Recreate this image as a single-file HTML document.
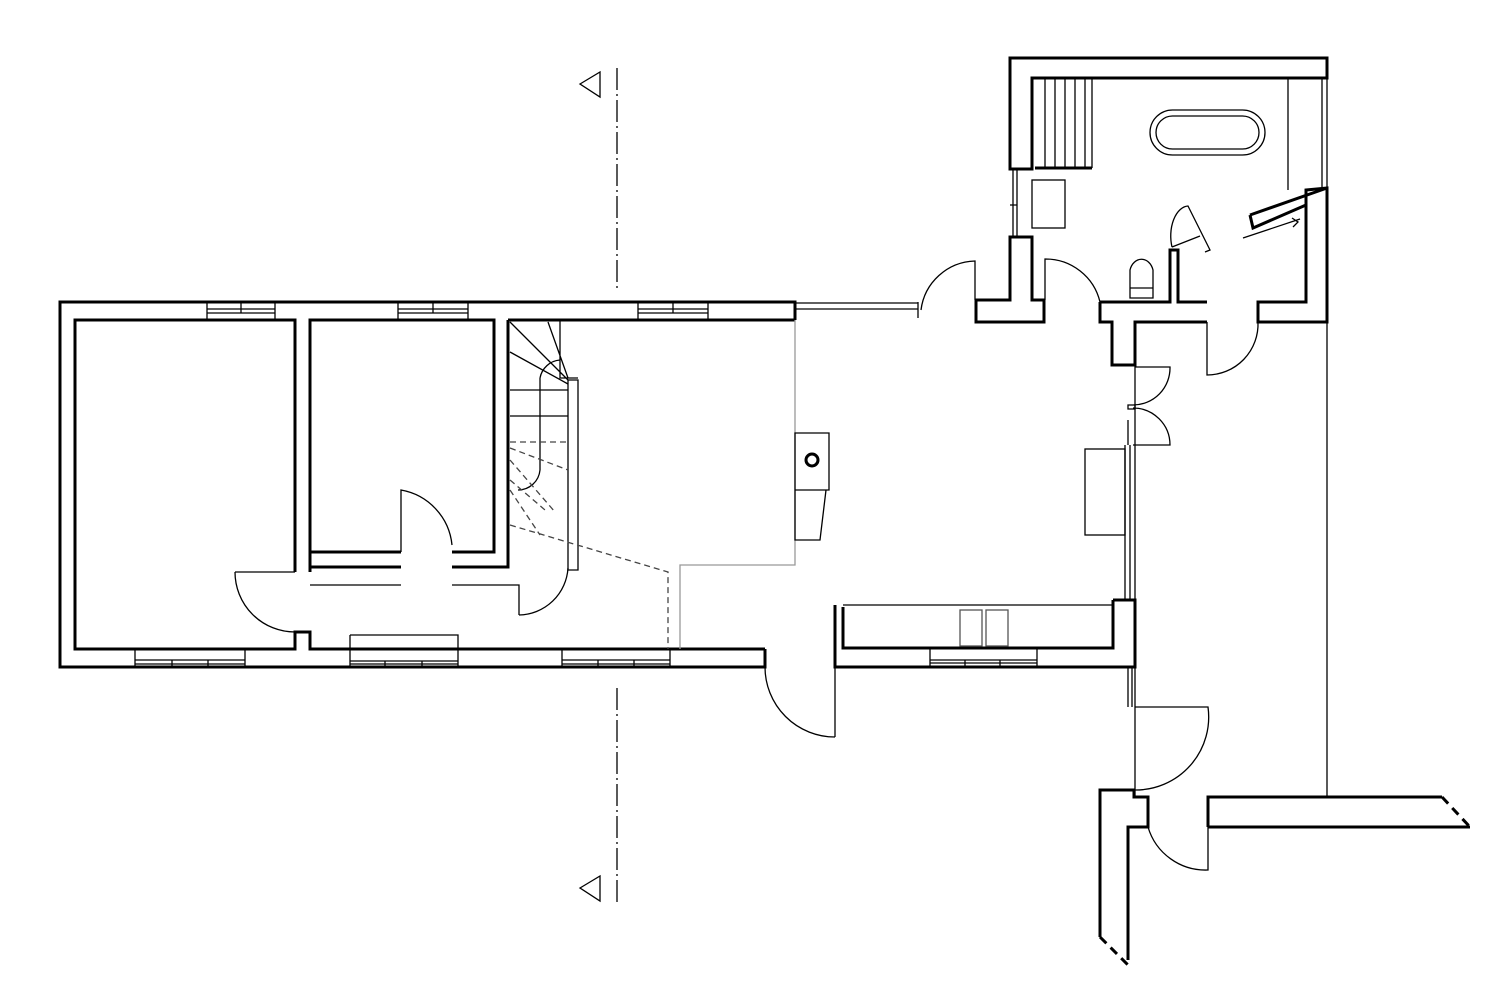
<!DOCTYPE html>
<html><head><meta charset="utf-8"><style>html,body{margin:0;padding:0;background:#fff}svg{display:block}</style></head>
<body>
<svg width="1500" height="1000" viewBox="0 0 1500 1000" xmlns="http://www.w3.org/2000/svg" fill="none" stroke="#000" stroke-linejoin="miter">
<!-- section markers -->
<g stroke-width="1.3">
<path d="M617 68 V290" stroke-dasharray="22 4 2 4"/>
<path d="M617 688 V905" stroke-dasharray="22 4 2 4"/>
<path d="M580 84 L600 72 V97 Z"/>
<path d="M580 888 L600 876 V901 Z"/>
</g>
<!-- main building walls (thick) -->
<g stroke-width="3">
<!-- outer -->
<path d="M765 649 V667 H60 V302 H795 V320"/>
<!-- left room -->
<path d="M295 572 V320 H75 V649 H295 V632 H310 V649 H765"/>
<!-- room 2 -->
<path d="M310 572 V320 H494 V552 H452 M401 552 H310 M310 567 H401 M452 567 H508 V320"/>
<!-- top inner -->
<path d="M508 320 H795"/>
<!-- kitchen counter -->
<path d="M835 605 V667 H1135 V600 H1113 M843 607 V648 H1113 V600"/>
<!-- annex -->
<path d="M1010 169 V58 H1327 V78 H1032 V169 Z"/>
<path d="M1010 237 H1032 V300 H1044 V322 H976 V300 H1010 Z"/>
<path d="M1100 302 H1170 V250 H1178 V302 H1207 M1100 302 V322 H1112 V365 H1135 V322 H1207 M1258 302 H1306 V190 L1327 188 V322 H1258 Z"/>
<path d="M1250 215 L1327 188 M1250 215 L1253 228 L1306 205"/>
<path d="M1035 168 H1092"/>
<!-- bottom right -->
<path d="M1100 937 V790 H1134 V797 H1148 V827 H1128 V960"/>
<path d="M1208 827 V797 H1442 M1208 827 H1470"/>
<path d="M1100 937 L1128 965 M1442 797 L1470 827" stroke-dasharray="9 6"/>
</g>
<!-- windows (white out + thin) -->
<g fill="#fff" stroke="none">
<rect x="209" y="304" width="64" height="14"/>
<rect x="400" y="304" width="66" height="14"/>
<rect x="640" y="304" width="66" height="14"/>
<rect x="137" y="651" width="106" height="14"/>
<rect x="564" y="651" width="104" height="14"/>
<rect x="352" y="651" width="104" height="14"/>
<rect x="932" y="650" width="103" height="15"/>
</g>
<g stroke-width="1.3">
<path d="M207 302 V320 M275 302 V320 M398 302 V320 M468 302 V320 M638 302 V320 M708 302 V320 M207 309 H275 M207 313 H275 M241 302 V313 M398 309 H468 M398 313 H468 M433 302 V313 M638 309 H708 M638 313 H708 M673 302 V313"/>
<path d="M135 649 V667 M245 649 V667 M135 660 H245 M135 664 H245 M172 660 V667 M208 660 V667 M562 649 V667 M670 649 V667 M562 660 H670 M562 664 H670 M598 660 V667 M634 660 V667"/>
<path d="M350 661 H458 M350 664 H458 M385 661 V667 M422 661 V667 M350 635 H458 V667 M350 635 V667"/>
<path d="M930 648 V667 M1037 648 V667 M930 660 H1037 M930 663 H1037 M965 660 V667 M1000 660 V667"/>
<path d="M795 303 H918 M795 309 H918 M918 302 V318"/>
<!-- doors -->
<path d="M235 572 H295 M235 572 A60 60 0 0 0 295 632"/>
<path d="M401 552 V490 A62 62 0 0 1 452 545"/>
<path d="M310 585 H401 M452 585 H519 V615 M519 615 A50 50 0 0 0 568 568"/>
<path d="M835 667 V737 M765 667 A70 70 0 0 0 835 737"/>
<path d="M975 300 V261 A56 56 0 0 0 921 310"/>
<path d="M1045 300 V259 A56 56 0 0 1 1100 302"/>
<path d="M1207 322 V375 A51 51 0 0 0 1258 322"/>
<path d="M1135 367 H1170 A37 37 0 0 1 1133 405 M1128 405 H1135 V409 H1128 Z M1133 408 A37 37 0 0 1 1170 445 H1133"/>
<path d="M1135 707 H1208 A73 73 0 0 1 1135 790"/>
<path d="M1148 827 A60 60 0 0 0 1208 870 V827"/>
<path d="M1172 247 A18 30 0 0 1 1188 206 L1210 250 L1205 252 M1172 247 L1200 236"/>
<!-- stairs -->
<path d="M568 380 H578 V570 H568 Z"/>
<path d="M560 320 V378 H578 M510 322 L568 380 M510 352 L568 384 M548 322 L568 378 M510 390 H568 M510 416 H568 M540 378 A22 22 0 0 1 560 360 M540 378 V470 A22 22 0 0 1 518 490"/>
<path d="M510 442 H568 M510 448 L568 470 M510 460 L555 512 M510 490 L540 535 M510 480 L545 510 M510 525 L668 572 V649" stroke-dasharray="6 4" stroke="#444"/>
<!-- gray zone line -->
<path d="M795 320 V565 H680 V649" stroke="#999"/>
<!-- island -->
<path d="M795 433 H829 V490 H795 Z M795 490 V540 H820 L826 490"/>
<circle cx="812" cy="460" r="6" stroke-width="3"/>
<!-- sinks -->
<path d="M843 605 H1113" />
<rect x="960" y="610" width="22" height="36" stroke="#555"/>
<rect x="986" y="610" width="22" height="36" stroke="#555"/>
<!-- fridge + right wall -->
<rect x="1085" y="449" width="40" height="86"/>
<path d="M1125 445 V600 M1130 445 V600 M1128 420 V445"/>
<path d="M1135 365 V797 M1128 667 V707 M1132 667 V707"/>
<path d="M1327 58 V797"/>
<!-- annex details -->
<path d="M1013 169 V237 M1017 169 V237 M1010 205 H1017"/>
<path d="M1045 78 V168 M1055 78 V168 M1065 78 V168 M1075 78 V168 M1085 78 V168 M1092 78 V168"/>
<rect x="1032" y="180" width="33" height="48"/>
<rect x="1150" y="110" width="115" height="45" rx="22.5"/>
<rect x="1156" y="116" width="103" height="33" rx="16.5"/>
<path d="M1130 298 V270 A12 15 0 0 1 1153 270 V298 Z M1130 288 H1153"/>
<path d="M1288 78 V190 M1322 78 V188"/>
<path d="M1243 238 L1300 219 M1292 218 L1298 222 L1293 227"/>
</g>
</svg>
</body></html>
